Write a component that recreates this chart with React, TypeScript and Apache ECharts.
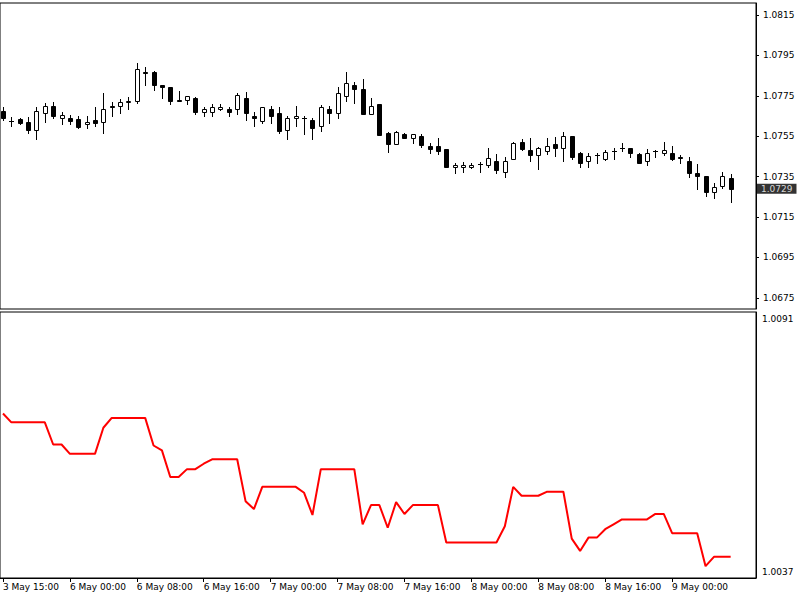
import React, { useEffect, useRef } from "react";
import * as echarts from "echarts";

const TIME_LABELS = [
  "3 May 15:00", "6 May 00:00", "6 May 08:00", "6 May 16:00", "7 May 00:00", "7 May 08:00",
  "7 May 16:00", "8 May 00:00", "8 May 08:00", "8 May 16:00", "9 May 00:00",
];
const TIME_LABEL_BARS = [0, 8, 16, 24, 32, 40, 48, 56, 64, 72, 80];

const OPEN = [
  1.07675, 1.07626, 1.07634, 1.07622, 1.07581, 1.07663, 1.07700, 1.07639, 1.07642, 1.07634,
  1.07610, 1.07630, 1.07622, 1.07700, 1.07700, 1.07720, 1.07726, 1.07870, 1.07869, 1.07804,
  1.07792, 1.07727, 1.07729, 1.07738, 1.07671, 1.07671, 1.07683, 1.07683, 1.07683, 1.07738,
  1.07652, 1.07627, 1.07683, 1.07663, 1.07581, 1.07639, 1.07640, 1.07630, 1.07601, 1.07683,
  1.07663, 1.07749, 1.07804, 1.07782, 1.07660, 1.07709, 1.07567, 1.07511, 1.07561, 1.07540,
  1.07551, 1.07502, 1.07502, 1.07485, 1.07396, 1.07396, 1.07396, 1.07413, 1.07408, 1.07429,
  1.07374, 1.07436, 1.07523, 1.07482, 1.07457, 1.07478, 1.07511, 1.07490, 1.07551, 1.07465,
  1.07429, 1.07456, 1.07436, 1.07478, 1.07490, 1.07490, 1.07462, 1.07429, 1.07479, 1.07468,
  1.07468, 1.07449, 1.07429, 1.07369, 1.07353, 1.07275, 1.07304, 1.07342,
];
const CLOSE = [
  1.07639, 1.07624, 1.07617, 1.07581, 1.07675, 1.07700, 1.07650, 1.07655, 1.07625, 1.07597,
  1.07622, 1.07617, 1.07683, 1.07693, 1.07721, 1.07722, 1.07881, 1.07863, 1.07804, 1.07792,
  1.07726, 1.07726, 1.07749, 1.07671, 1.07683, 1.07693, 1.07693, 1.07671, 1.07754, 1.07663,
  1.07642, 1.07693, 1.07650, 1.07577, 1.07642, 1.07650, 1.07639, 1.07589, 1.07693, 1.07666,
  1.07762, 1.07812, 1.07782, 1.07660, 1.07700, 1.07556, 1.07511, 1.07572, 1.07540, 1.07561,
  1.07506, 1.07485, 1.07478, 1.07396, 1.07408, 1.07408, 1.07408, 1.07412, 1.07441, 1.07383,
  1.07429, 1.07515, 1.07485, 1.07457, 1.07490, 1.07502, 1.07490, 1.07551, 1.07446, 1.07416,
  1.07452, 1.07457, 1.07473, 1.07479, 1.07490, 1.07468, 1.07416, 1.07468, 1.07478, 1.07482,
  1.07436, 1.07441, 1.07366, 1.07353, 1.07275, 1.07300, 1.07353, 1.07290,
];
const LOW = [
  1.07630, 1.07601, 1.07610, 1.07567, 1.07535, 1.07622, 1.07639, 1.07610, 1.07610, 1.07589,
  1.07589, 1.07601, 1.07567, 1.07650, 1.07663, 1.07683, 1.07716, 1.07804, 1.07779, 1.07738,
  1.07709, 1.07725, 1.07709, 1.07660, 1.07650, 1.07650, 1.07680, 1.07650, 1.07660, 1.07630,
  1.07601, 1.07617, 1.07617, 1.07567, 1.07535, 1.07601, 1.07561, 1.07535, 1.07577, 1.07617,
  1.07639, 1.07726, 1.07716, 1.07660, 1.07660, 1.07556, 1.07473, 1.07511, 1.07540, 1.07518,
  1.07498, 1.07468, 1.07462, 1.07396, 1.07366, 1.07374, 1.07391, 1.07374, 1.07396, 1.07366,
  1.07350, 1.07436, 1.07482, 1.07429, 1.07386, 1.07462, 1.07452, 1.07429, 1.07436, 1.07399,
  1.07396, 1.07416, 1.07432, 1.07436, 1.07478, 1.07449, 1.07416, 1.07408, 1.07449, 1.07457,
  1.07434, 1.07416, 1.07350, 1.07287, 1.07254, 1.07243, 1.07292, 1.07226,
];
const HIGH = [
  1.07696, 1.07647, 1.07642, 1.07647, 1.07696, 1.07713, 1.07721, 1.07671, 1.07655, 1.07650,
  1.07650, 1.07696, 1.07762, 1.07721, 1.07733, 1.07743, 1.07911, 1.07891, 1.07874, 1.07805,
  1.07793, 1.07775, 1.07750, 1.07746, 1.07693, 1.07709, 1.07709, 1.07696, 1.07765, 1.07770,
  1.07671, 1.07696, 1.07700, 1.07693, 1.07650, 1.07700, 1.07650, 1.07639, 1.07705, 1.07700,
  1.07792, 1.07869, 1.07820, 1.07832, 1.07738, 1.07709, 1.07570, 1.07577, 1.07567, 1.07561,
  1.07561, 1.07515, 1.07540, 1.07487, 1.07419, 1.07424, 1.07419, 1.07424, 1.07490, 1.07462,
  1.07446, 1.07523, 1.07535, 1.07540, 1.07498, 1.07540, 1.07545, 1.07572, 1.07553, 1.07473,
  1.07465, 1.07465, 1.07482, 1.07490, 1.07515, 1.07491, 1.07468, 1.07485, 1.07482, 1.07523,
  1.07502, 1.07457, 1.07449, 1.07412, 1.07353, 1.07320, 1.07374, 1.07363,
];

const INDICATOR = [
  1.00704, 1.00686, 1.00686, 1.00686, 1.00686, 1.00686, 1.00641, 1.00641, 1.00622, 1.00622,
  1.00622, 1.00622, 1.00675, 1.00695, 1.00695, 1.00695, 1.00695, 1.00695, 1.00639, 1.00629,
  1.00575, 1.00575, 1.00591, 1.00591, 1.00602, 1.00611, 1.00611, 1.00611, 1.00611, 1.00526,
  1.00510, 1.00555, 1.00555, 1.00555, 1.00555, 1.00555, 1.00543, 1.00498, 1.00591, 1.00591,
  1.00591, 1.00591, 1.00591, 1.00479, 1.00518, 1.00518, 1.00472, 1.00524, 1.00500, 1.00518,
  1.00518, 1.00518, 1.00518, 1.00442, 1.00442, 1.00442, 1.00442, 1.00442, 1.00442, 1.00442,
  1.00475, 1.00555, 1.00537, 1.00537, 1.00537, 1.00545, 1.00545, 1.00545, 1.00450, 1.00425,
  1.00452, 1.00452, 1.00469, 1.00479, 1.00489, 1.00489, 1.00489, 1.00489, 1.00500, 1.00500,
  1.00461, 1.00461, 1.00461, 1.00461, 1.00394, 1.00413, 1.00413, 1.00413,
];

const PRICE_TICKS = [1.0675, 1.0695, 1.0715, 1.0735, 1.0755, 1.0775, 1.0795, 1.0815];
const INDICATOR_TICKS = [1.0037, 1.0091];
const LAST_PRICE = 1.0729;

const FONT = "DejaVu Sans";

export default function App() {
  const ref = useRef<HTMLDivElement>(null);

  useEffect(() => {
    if (!ref.current) return;
    const chart = echarts.init(ref.current, null, { renderer: "svg" });
    const candles = OPEN.map((o, i) => [i, o, CLOSE[i], LOW[i], HIGH[i]]);
    const line = INDICATOR.map((v, i) => [i, v]);
    const xMin = -0.358;
    const xMax = 90.03;

    const option: any = {
      animation: false,
      backgroundColor: "#ffffff",
      textStyle: { fontFamily: FONT },
      grid: [
        { left: -1, right: 44, top: 3, height: 306, show: true, borderColor: "#000", borderWidth: 1, backgroundColor: "#fff" },
        { left: -1, right: 44, top: 312, height: 266, show: true, borderColor: "#000", borderWidth: 1, backgroundColor: "#fff" },
      ],
      xAxis: [
        {
          type: "value", gridIndex: 0, min: xMin, max: xMax,
          axisLine: { show: false }, axisTick: { show: false }, axisLabel: { show: false }, splitLine: { show: false },
        },
        {
          type: "value", gridIndex: 1, min: xMin, max: xMax,
          axisLine: { show: true, onZero: false, lineStyle: { color: "#000", width: 1 } },
          axisTick: { show: true, customValues: TIME_LABEL_BARS, length: 4, lineStyle: { color: "#000" } },
          axisLabel: {
            show: true,
            customValues: TIME_LABEL_BARS,
            formatter: (v: number) => {
              const k = TIME_LABEL_BARS.indexOf(Math.round(v));
              return k >= 0 ? TIME_LABELS[k] : "";
            },
            align: "left",
            margin: 4,
            color: "#000",
            fontFamily: FONT,
            fontSize: 9,
            hideOverlap: false,
          },
          splitLine: { show: false },
        },
      ],
      yAxis: [
        {
          type: "value", gridIndex: 0, position: "right", min: 1.066947, max: 1.082094,
          axisLine: { show: true, onZero: false, lineStyle: { color: "#000", width: 1 } },
          axisTick: { show: true, customValues: PRICE_TICKS, length: 3, lineStyle: { color: "#000" } },
          axisLabel: {
            show: true,
            customValues: PRICE_TICKS,
            formatter: (v: number) => v.toFixed(4),
            margin: 7,
            color: "#000",
            fontFamily: FONT,
            fontSize: 9,
          },
          splitLine: { show: false },
        },
        {
          type: "value", gridIndex: 1, position: "right", min: 1.0037, max: 1.0091,
          axisLine: { show: true, onZero: false, lineStyle: { color: "#000", width: 1 } },
          axisTick: { show: false },
          axisLabel: {
            show: true,
            customValues: INDICATOR_TICKS,
            formatter: (v: number) => (v >= 1.0091 - 1e-9 ? "{top|" + v.toFixed(4) + "}" : "{bot|" + v.toFixed(4) + "}"),
            margin: 6,
            color: "#000",
            fontFamily: FONT,
            fontSize: 9,
            rich: {
              top: { fontFamily: FONT, fontSize: 9, color: "#000", padding: [14, 0, 0, 0] },
              bot: { fontFamily: FONT, fontSize: 9, color: "#000", padding: [0, 0, 12, 0] },
            },
          },
          splitLine: { show: false },
        },
      ],
      series: [
        {
          type: "custom",
          xAxisIndex: 0,
          yAxisIndex: 0,
          data: candles,
          encode: { x: 0, y: [1, 2, 3, 4] },
          renderItem: (params: any, api: any) => {
            const i = api.value(0);
            const o = api.value(1);
            const c = api.value(2);
            const l = api.value(3);
            const h = api.value(4);
            const po = api.coord([i, o]);
            const pc = api.coord([i, c]);
            const pl = api.coord([i, l]);
            const ph = api.coord([i, h]);
            const x = Math.round(po[0]) + 0.5;
            const top = Math.round(Math.min(po[1], pc[1])) + 0.5;
            const bot = Math.round(Math.max(po[1], pc[1])) + 0.5;
            const bull = c >= o;
            const children: any[] = [
              {
                type: "line",
                shape: { x1: x, y1: Math.round(ph[1]), x2: x, y2: Math.round(pl[1]) + 1 },
                style: { stroke: "#000", lineWidth: 1 },
              },
            ];
            if (bot - top < 1) {
              children.push({
                type: "line",
                shape: { x1: x - 2.5, y1: top, x2: x + 2.5, y2: top },
                style: { stroke: "#000", lineWidth: 1 },
              });
            } else {
              children.push({
                type: "rect",
                shape: { x: x - 2, y: top, width: 4, height: bot - top },
                style: { fill: bull ? "#fff" : "#000", stroke: "#000", lineWidth: 1 },
              });
            }
            return { type: "group", children };
          },
        },
        {
          type: "scatter",
          xAxisIndex: 0,
          yAxisIndex: 0,
          data: [[xMax, LAST_PRICE]],
          symbolSize: 0,
          silent: true,
          clip: false,
          z: 10,
          label: {
            show: true,
            position: "right",
            distance: 1,
            formatter: () => LAST_PRICE.toFixed(4),
            color: "#fff",
            backgroundColor: "#000",
            padding: [1, 4, 0, 4],
            fontFamily: FONT,
            fontSize: 9,
          },
        },
        {
          type: "line",
          xAxisIndex: 1,
          yAxisIndex: 1,
          data: line,
          symbol: "none",
          lineStyle: { color: "#ff0000", width: 2 },
          silent: true,
        },
      ],
    };

    chart.setOption(option);
    return () => chart.dispose();
  }, []);

  return <div ref={ref} style={{ position: "absolute", left: 0, top: 0, width: 800, height: 600 }} />;
}
